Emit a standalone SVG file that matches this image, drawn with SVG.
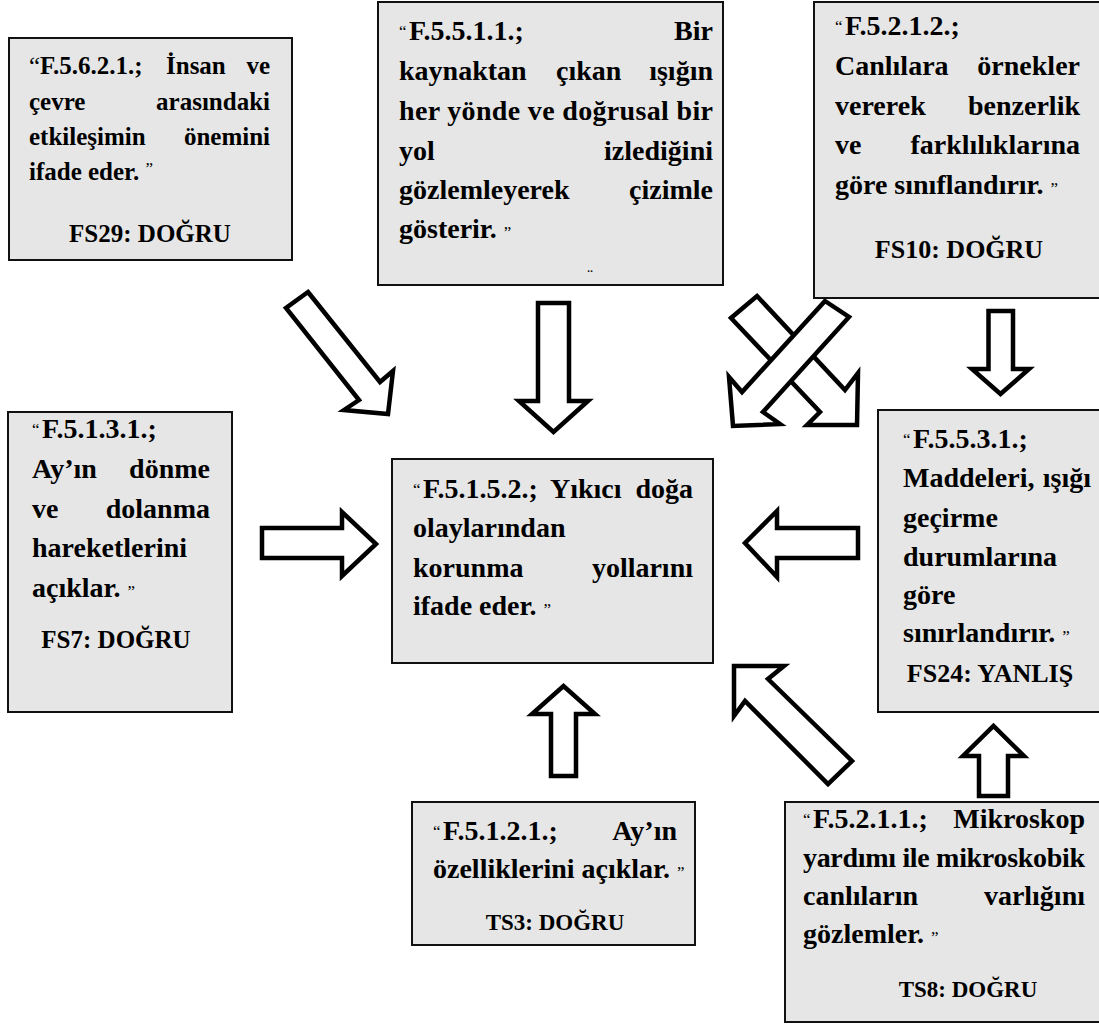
<svg xmlns="http://www.w3.org/2000/svg" width="1099" height="1025" viewBox="0 0 1099 1025">
  <style>
    .box { fill: #e6e6e6; stroke: #111; stroke-width: 2; }
    .t { font-family: "Liberation Serif", "Times New Roman", serif; font-weight: bold; font-size: 28px; fill: #000; }
    .s { font-size: 25px; }
    .lb { font-size: 26px; }
    .lb2 { font-size: 23px; }
    .q { font-weight: normal; font-size: 17px; }
    .e { text-anchor: end; }
    .m { text-anchor: middle; }
    .arrow { fill: #fff; stroke: #000; stroke-width: 4.5; stroke-linejoin: miter; }
  </style>
  <rect width="1099" height="1025" fill="#fff"/>

  <!-- block arrows -->
  <g id="connectors">
    <polygon class="arrow" points="308,292 380,382 393,371 388,414 344,410 359,400 286,308"/>
    <polygon class="arrow" points="538,303 569,303 569,401 588,401 553.5,432 519,401 538,401"/>
    <polygon class="arrow" points="757,296 845,390 858,373 857,425 807,425 820,412 731,318"/>
    <polygon class="arrow" points="825,301 849,317 763,412 780,424 733,426 729,377 742,392"/>
    <polygon class="arrow" points="988.5,311 1013,311 1013,369 1029,369 1000.5,394 972,369 988.5,369"/>
    <polygon class="arrow" points="262,528 342,528 342,512 376,544 342,576 342,558 262,558"/>
    <polygon class="arrow" points="858,528 777,528 777,511 745,543 777,577 777,558 858,558"/>
    <polygon class="arrow" points="734,666 784,666 768,679 852,761 828,784 745,701 734,716"/>
    <polygon class="arrow" points="551,776 576,776 576,714 595,714 563.5,686 532,714 551,714"/>
    <polygon class="arrow" points="979,796 1008,796 1008,756 1024,756 993.5,726 963,756 979,756"/>
  </g>

  <!-- F.5.6.2.1 -->
  <g id="n-f5621">
    <rect class="box" x="9" y="38" width="283" height="222"/>
    <text class="t s" x="29" y="74"><tspan font-weight="normal">“</tspan>F.5.6.2.1.;</text>
    <text class="t s" x="166" y="74">İnsan</text>
    <text class="t s e" x="270" y="74">ve</text>
    <text class="t s" x="29" y="110">çevre</text>
    <text class="t s e" x="270" y="110">arasındaki</text>
    <text class="t s" x="29" y="145">etkileşimin</text>
    <text class="t s e" x="270" y="145">önemini</text>
    <text class="t s" x="29" y="180">ifade eder. <tspan class="q" dy="-6">”</tspan></text>
    <text class="t s m" x="150" y="242">FS29: DOĞRU</text>
  </g>

  <!-- F.5.5.1.1 -->
  <g id="n-f5511">
    <rect class="box" x="378" y="2" width="345" height="283"/>
    <text class="t q" x="399" y="37">“</text>
    <text class="t" x="409" y="40">F.5.5.1.1.;</text>
    <text class="t e" x="713" y="40">Bir</text>
    <text class="t" x="399" y="80">kaynaktan</text>
    <text class="t" x="556" y="80">çıkan</text>
    <text class="t e" x="713" y="80">ışığın</text>
    <text class="t" x="399" y="120" textLength="314" lengthAdjust="spacing">her yönde ve doğrusal bir</text>
    <text class="t" x="399" y="160">yol</text>
    <text class="t e" x="713" y="160">izlediğini</text>
    <text class="t" x="399" y="199">gözlemleyerek</text>
    <text class="t e" x="713" y="199">çizimle</text>
    <text class="t" x="399" y="238">gösterir. <tspan class="q">”</tspan></text>
    <text class="t q m" x="590" y="281" font-size="12">¨</text>
  </g>

  <!-- F.5.2.1.2 -->
  <g id="n-f5212">
    <rect class="box" x="814" y="2" width="300" height="296"/>
    <text class="t q" x="835" y="32">“</text>
    <text class="t" x="845" y="35">F.5.2.1.2.;</text>
    <text class="t" x="835" y="75">Canlılara</text>
    <text class="t e" x="1080" y="75">örnekler</text>
    <text class="t" x="835" y="115">vererek</text>
    <text class="t e" x="1080" y="115">benzerlik</text>
    <text class="t" x="835" y="154">ve</text>
    <text class="t e" x="1080" y="154">farklılıklarına</text>
    <text class="t" x="835" y="194">göre sınıflandırır. <tspan class="q">”</tspan></text>
    <text class="t lb m" x="959" y="258">FS10: DOĞRU</text>
  </g>

  <!-- F.5.1.3.1 -->
  <g id="n-f5131">
    <rect class="box" x="8" y="412" width="224" height="300"/>
    <text class="t q" x="32" y="435">“</text>
    <text class="t" x="42" y="438">F.5.1.3.1.;</text>
    <text class="t" x="32" y="478">Ay’ın</text>
    <text class="t e" x="210" y="478">dönme</text>
    <text class="t" x="32" y="518">ve</text>
    <text class="t e" x="210" y="518">dolanma</text>
    <text class="t" x="32" y="557">hareketlerini</text>
    <text class="t" x="32" y="597">açıklar. <tspan class="q">”</tspan></text>
    <text class="t s m" x="116" y="648">FS7: DOĞRU</text>
  </g>

  <!-- F.5.1.5.2 (centre) -->
  <g id="n-f5152">
    <rect class="box" x="392" y="459" width="321" height="204"/>
    <text class="t q" x="413" y="495">“</text>
    <text class="t" x="423" y="498">F.5.1.5.2.;</text>
    <text class="t" x="550" y="498">Yıkıcı</text>
    <text class="t e" x="693" y="498">doğa</text>
    <text class="t" x="413" y="537">olaylarından</text>
    <text class="t" x="413" y="577">korunma</text>
    <text class="t e" x="693" y="577">yollarını</text>
    <text class="t" x="413" y="615">ifade eder. <tspan class="q">”</tspan></text>
  </g>

  <!-- F.5.5.3.1 -->
  <g id="n-f5531">
    <rect class="box" x="878" y="410" width="230" height="302"/>
    <text class="t q" x="903" y="445">“</text>
    <text class="t" x="913" y="448">F.5.5.3.1.;</text>
    <text class="t" x="903" y="487">Maddeleri,</text>
    <text class="t e" x="1091" y="487">ışığı</text>
    <text class="t" x="903" y="527">geçirme</text>
    <text class="t" x="903" y="566">durumlarına</text>
    <text class="t" x="903" y="604">göre</text>
    <text class="t" x="903" y="642">sınırlandırır. <tspan class="q">”</tspan></text>
    <text class="t lb m" x="990" y="682">FS24: YANLIŞ</text>
  </g>

  <!-- F.5.1.2.1 -->
  <g id="n-f5121">
    <rect class="box" x="412" y="802" width="283" height="143"/>
    <text class="t q" x="433" y="837">“</text>
    <text class="t" x="443" y="840">F.5.1.2.1.;</text>
    <text class="t e" x="677" y="840">Ay’ın</text>
    <text class="t" x="433" y="878">özelliklerini açıklar. <tspan class="q">”</tspan></text>
    <text class="t lb2 m" x="555" y="930">TS3: DOĞRU</text>
  </g>

  <!-- F.5.2.1.1 -->
  <g id="n-f5211">
    <rect class="box" x="785" y="802" width="330" height="220"/>
    <text class="t q" x="803" y="825">“</text>
    <text class="t" x="813" y="828">F.5.2.1.1.;</text>
    <text class="t e" x="1085" y="828">Mikroskop</text>
    <text class="t" x="803" y="867" textLength="282" lengthAdjust="spacing">yardımı ile mikroskobik</text>
    <text class="t" x="803" y="905">canlıların</text>
    <text class="t e" x="1085" y="905">varlığını</text>
    <text class="t" x="803" y="943">gözlemler. <tspan class="q">”</tspan></text>
    <text class="t lb2 m" x="968" y="997">TS8: DOĞRU</text>
  </g>
</svg>
